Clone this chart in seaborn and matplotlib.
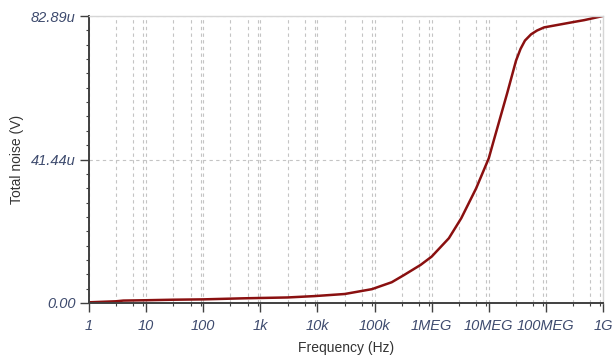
import matplotlib
matplotlib.use("Agg")
import matplotlib.pyplot as plt
import matplotlib.ticker as mticker
import pandas as pd
import seaborn as sns

# frequency (Hz) and total noise (uV)
freq_hz = [1, 3, 4, 10, 30, 100, 500, 1e3, 3e3, 9e3, 3e4, 9e4, 2e5, 3.3e5,
           6.4e5, 1e6, 2e6, 3.3e6, 6e6, 1e7, 1.23e7, 2.1e7, 3e7, 3.6e7,
           4.3e7, 5.5e7, 7e7, 9.3e7, 3.16e8, 4.7e8, 1e9]
noise_uv = [0.2, 0.5, 0.7, 0.8, 0.95, 1.05, 1.35, 1.45, 1.6, 2.0, 2.6, 4.0,
            6.0, 8.1, 11.0, 13.4, 18.7, 24.5, 33.1, 41.8, 47.1, 60.6, 70.0,
            73.4, 75.8, 77.6, 78.7, 79.6, 81.2, 81.7, 82.89]

x_ticks = [1, 10, 100, 1e3, 1e4, 1e5, 1e6, 1e7, 1e8, 1e9]
x_labels = ["1", "10", "100", "1k", "10k", "100k", "1MEG", "10MEG", "100MEG", "1G"]
y_ticks = [0, 41.44, 82.89]
y_labels = ["0.00", "41.44u", "82.89u"]

df = pd.DataFrame({"freq": freq_hz, "noise": noise_uv})

sns.set_style("white")
plt.rcParams["font.family"] = ["Liberation Sans", "DejaVu Sans"]

label_col = "#3e4b6e"
axis_col = "#404040"
grid_col = "#c4c4c4"

fig = plt.figure(figsize=(6.13, 3.58), dpi=100)
ax = fig.add_axes([89 / 613, 55 / 358, 514 / 613, 287 / 358])

sns.lineplot(data=df, x="freq", y="noise", ax=ax, color="#8a1010", lw=1.8)

ax.set_xscale("log")
ax.set_xlim(1, 1e9)
ax.set_ylim(0, 82.89)

ax.xaxis.set_major_locator(mticker.FixedLocator(x_ticks))
ax.xaxis.set_minor_locator(mticker.FixedLocator(
    [m * 10 ** k for k in range(9) for m in (3, 6, 9)]))
ax.xaxis.set_minor_formatter(mticker.NullFormatter())
ax.set_xticks(x_ticks)
ax.set_xticklabels(x_labels)
ax.set_yticks(y_ticks)
ax.set_yticklabels(y_labels)
ax.yaxis.set_minor_locator(mticker.MultipleLocator(41.44 / 10))

ax.tick_params(which="major", length=6.5, width=1, color=axis_col, direction="out",
               labelsize=10.5, labelcolor=label_col, bottom=True, left=True)
ax.tick_params(axis="x", which="major", pad=5)
ax.tick_params(axis="y", which="major", pad=3)
ax.tick_params(which="minor", length=2.5, width=0.8, color=axis_col, direction="out",
               bottom=True, left=True)
for t in ax.get_xticklabels() + ax.get_yticklabels():
    t.set_fontstyle("italic")

ax.grid(which="both", axis="x", ls=(0, (3, 3)), color=grid_col, lw=0.8)
ax.grid(which="major", axis="y", ls=(0, (3, 3)), color=grid_col, lw=0.8)

for side in ("left", "bottom"):
    ax.spines[side].set_color(axis_col)
    ax.spines[side].set_linewidth(1.4)
for side in ("top", "right"):
    ax.spines[side].set_color("#d6d6d6")
    ax.spines[side].set_linewidth(1.0)

ax.set_xlabel("Frequency (Hz)", fontsize=10, color="#333333", labelpad=6)
ax.set_ylabel("Total noise (V)", fontsize=10, color="#333333", labelpad=5)

fig.savefig("out.png", dpi=100)
